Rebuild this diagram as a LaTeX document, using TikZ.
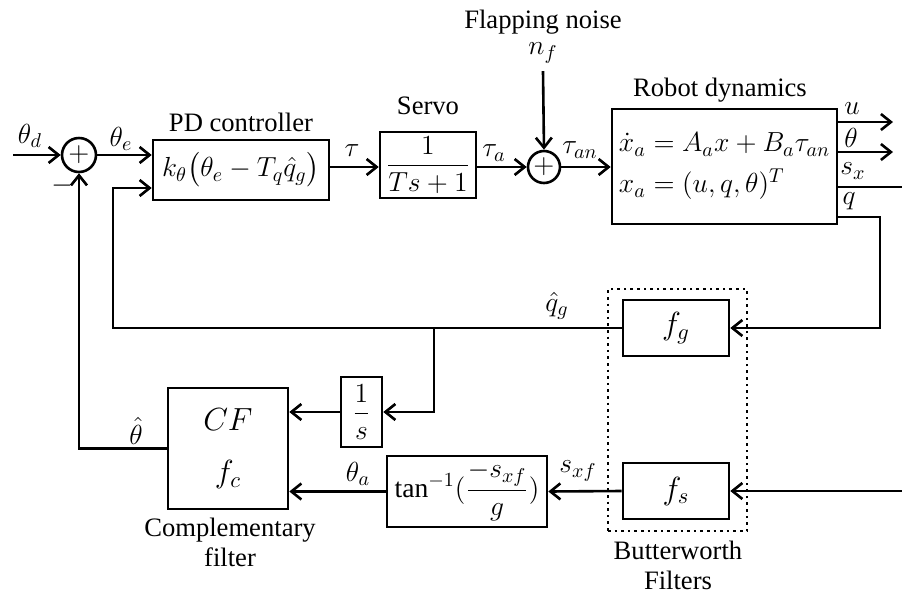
\documentclass[tikz,border=0pt]{standalone}
\usepackage{fix-cm}
\usepackage{amsmath}
\usepackage{fontspec}
\setmainfont{Liberation Serif}
\DeclareMathSizes{13.3}{13.8}{10}{7.6}
\usetikzlibrary{arrows.meta}

\begin{document}
\begin{tikzpicture}[x=0.5pt, y=-0.5pt, line width=1.3pt,
    font=\fontsize{13.3}{15}\selectfont,
    >={Straight Barb[length=5pt,width=8pt]},
    block/.style={draw, rectangle, inner sep=2pt},
    sumnode/.style={draw, circle, inner sep=0pt, minimum size=17pt},
    bigmath/.style={font=\fontsize{16}{20}\selectfont}]
    \useasboundingbox (0,0) rectangle (902,596);
    % Nodes
    \node[sumnode] (sum1) at (79,155) {$+$};
    \node[block, minimum width=88pt, minimum height=30pt] (pd) at (241,170) {$k_\theta\big(\theta_e - T_q\hat{q}_g\big)$};
    \node[block, minimum width=48pt, minimum height=33pt, inner sep=1pt] (servo) at (428,165) {$\dfrac{1}{Ts+1}$};
    \node[sumnode, minimum size=16pt] (sum2) at (544,167) {$+$};
    \node[block, minimum width=112.5pt, minimum height=57.5pt, align=left] (robot) at (724.5,166.5)
        {$\dot{x}_a = A_a x + B_a\tau_{an}$\\[5.5pt]$x_a = (u,q,\theta)^T$};
    \node[block, bigmath, minimum width=53pt, minimum height=28pt] (fg) at (676,328) {$f_g$};
    \node[block, bigmath, minimum width=53pt, minimum height=28pt] (fs) at (676,491) {$f_s$};
    \node[block, minimum width=80pt, minimum height=35.5pt] (tanb) at (467,491.5) {$\tan^{-1}(\dfrac{-s_{xf}}{g})$};
    \node[block, minimum width=20.5pt, minimum height=35pt] (onebys) at (361.5,412) {$\dfrac{1}{s}$};
    \node[block, bigmath, minimum width=60pt, minimum height=60.5pt, align=center] (cf) at (228,448.5) {$CF$\\[6pt]$f_c$};
    \node[draw, dotted, minimum width=69.5pt, minimum height=121pt] (bw) at (677.5,410) {};
    \coordinate (thd) at (13,155);
    \coordinate (uout) at (893,122);
    \coordinate (thout) at (893,152);
    \coordinate (sxc) at (915,187);
    \coordinate (qc) at (880,217);
    \coordinate (pdfb) at (113,328);
    \coordinate (br) at (434,328);
    % Labels
    \node at (30,136) {$\theta_d$};
    \node at (121,139) {$\theta_e$};
    \node at (62,186) {$-$};
    \node at (241,122) {PD controller};
    \node at (352,151) {$\tau$};
    \node at (428,106) {Servo};
    \node at (494,153) {$\tau_a$};
    \node at (543,22) {Flapping noise};
    \node (nf) at (543,53) {$n_f$};
    \node at (580,150) {$\tau_{an}$};
    \node at (720,90) {Robot dynamics};
    \node at (852,109) {$u$};
    \node at (851,138) {$\theta$};
    \node at (853,171) {$s_x$};
    \node at (849,201) {$q$};
    \node at (557,306) {$\hat{q}_g$};
    \node at (136,431) {$\hat{\theta}$};
    \node at (358,474) {$\theta_a$};
    \node at (578,471) {$s_{xf}$};
    \node[align=center] at (230,542) {Complementary\\filter};
    \node[align=center] at (678,565) {Butterworth\\Filters};
    % Edges
    \draw[->] (thd) -- (sum1.west);
    \draw[->] (sum1.east) -- (sum1.east -| pd.west);
    \draw[->] (pd.east |- sum2) -- (servo.west |- sum2);
    \draw[->] (servo.east |- sum2) -- (sum2.west);
    \draw[->] (nf.south) -- (sum2.north);
    \draw[->] (sum2.east) -- (sum2 -| robot.west);
    \draw[->] (robot.east |- uout) -- (uout);
    \draw[->] (robot.east |- thout) -- (thout);
    \draw[->] (robot.east |- sxc) -- (sxc) |- (fs.east);
    \draw[->] (robot.east |- qc) -- (qc) |- (fg.east);
    \draw[->] (fg.west) -- (pdfb) |- ([yshift=-9pt]pd.west);
    \draw[->] (br) |- (onebys.east);
    \draw[->] (onebys.west) -- (onebys.west -| cf.east);
    \draw[->] (fs.west) -- (tanb.east);
    \draw[->] (tanb.west) -- (tanb.west -| cf.east);
    \draw[->] (cf.west) -| (sum1.south);
\end{tikzpicture}
\end{document}
